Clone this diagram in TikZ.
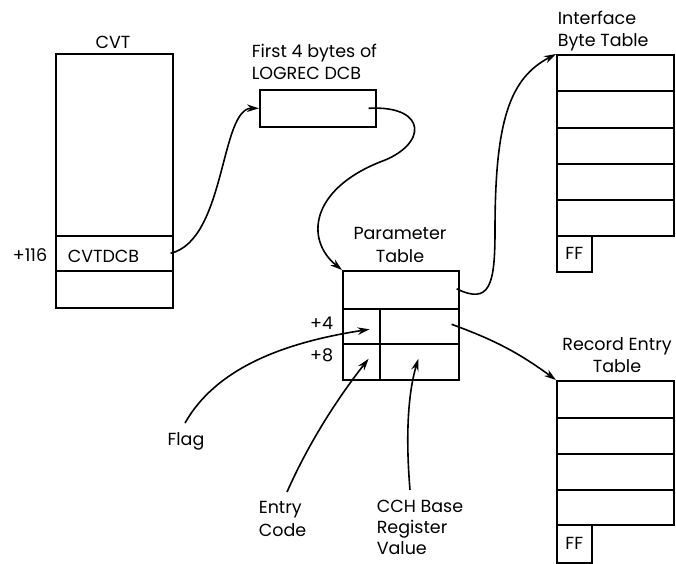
\documentclass[tikz,border=0pt]{standalone}
\usepackage{fontspec}
\setmainfont{Poppins}
\usetikzlibrary{arrows.meta,calc}
\begin{document}
\begin{tikzpicture}[x=1pt,y=-1pt, line width=1.6pt,
  cell/.style={draw, rectangle, inner sep=0pt, anchor=north west},
  lbl/.style={font=\fontsize{17.5}{22.5}\selectfont, inner sep=0pt},
  arr/.style={-{Stealth[length=12pt,width=7.5pt]}, line width=1.6pt}]
\useasboundingbox (0,0) rectangle (676,563);

% CVT
\node[cell, minimum width=117, minimum height=182] (cvttop) at (55,53) {};
\node[cell, minimum width=117, minimum height=35] (cvtdcb) at (55,235) {};
\node[cell, minimum width=117, minimum height=37] (cvtbot) at (55,270) {};
\node[lbl] (cvtlbl) at (113,42) {CVT};
\node[lbl] (off116) at (30,255) {+116};
\node[lbl, anchor=west] (cvtdcbtxt) at (67,256) {CVTDCB};

% LOGREC DCB
\node[cell, minimum width=116, minimum height=37] (logrec) at (259,89) {};
\node[lbl, anchor=west, align=left] (logreclbl) at (251,62) {First 4 bytes of\\LOGREC DCB};

% Parameter table
\node[cell, minimum width=116, minimum height=38] (p1) at (342,270) {};
\node[cell, minimum width=37, minimum height=35] (p2a) at (342,308) {};
\node[cell, minimum width=79, minimum height=35] (p2b) at (379,308) {};
\node[cell, minimum width=37, minimum height=36] (p3a) at (342,343) {};
\node[cell, minimum width=79, minimum height=36] (p3b) at (379,343) {};
\node[lbl, align=center] (plbl) at (400,245) {Parameter\\Table};
\node[lbl, anchor=east] (off4) at (334,323) {+4};
\node[lbl, anchor=east] (off8) at (334,355) {+8};

% Interface Byte Table
\node[cell, minimum width=117, minimum height=36] (i1) at (556,54) {};
\node[cell, minimum width=117, minimum height=37] (i2) at (556,90) {};
\node[cell, minimum width=117, minimum height=36] (i3) at (556,127) {};
\node[cell, minimum width=117, minimum height=36] (i4) at (556,163) {};
\node[cell, minimum width=117, minimum height=36] (i5) at (556,199) {};
\node[cell, minimum width=35, minimum height=36] (iff) at (556,235) {};
\node[lbl] (ifftxt) at (iff.center) {FF};
\node[lbl, anchor=west, align=left] (ilbl) at (557,31) {Interface\\Byte Table};

% Record Entry Table
\node[cell, minimum width=117, minimum height=37] (r1) at (556,380) {};
\node[cell, minimum width=117, minimum height=36] (r2) at (556,417) {};
\node[cell, minimum width=117, minimum height=36] (r3) at (556,453) {};
\node[cell, minimum width=117, minimum height=35] (r4) at (556,489) {};
\node[cell, minimum width=35, minimum height=38] (rff) at (556,524) {};
\node[lbl] (rfftxt) at (rff.center) {FF};
\node[lbl, align=center] (rlbl) at (617,355) {Record Entry\\Table};

% Labels at bottom
\node[lbl] (flag) at (186,441) {Flag};
\node[lbl, anchor=west, align=left] (entry) at (258,519) {Entry\\Code};
\node[lbl, anchor=west, align=left, font=\fontsize{17.5}{21}\selectfont] (cch) at (376,527) {CCH Base\\Register\\Value};

% connector end points
\coordinate (c1s) at ($(cvtdcb.east)+(-3,0)$);
\coordinate (c2s) at ($(logrec.east)+(-8,0)$);
\coordinate (c3s) at ($(p1.east)+(-3,-1)$);
\coordinate (c4s) at ($(p2b.east)+(-8,-2)$);
\coordinate (flagS) at (185,423);
\coordinate (entryS) at (287,492);
\coordinate (cchS) at (410,490);
\coordinate (flagT) at ($(p2a.east)+(-11,3)$);
\coordinate (entryT) at ($(p3a.east)+(-12,-3)$);
\coordinate (cchT) at ($(p3b.center)+(-1,-3)$);
\coordinate (mid2) at (380,162);
\coordinate (mid3) at (495,230);

% connectors
\draw[arr] (c1s) .. controls (226,240) and (220,108) .. (logrec.west);
\draw[arr] (c2s) .. controls (428,105) and (428,145) .. (mid2)
   .. controls (310,190) and (305,240) .. (p1.north west);
\draw[arr] (c3s) .. controls (490,305) and (495,285) .. (mid3)
   .. controls (495,120) and (510,78) .. (i1.north west);
\draw[arr] (c4s) to[bend left=8] (r1.north west);
\draw[arr] (flagS) .. controls (215,370) and (280,343) .. (flagT);
\draw[arr] (entryS) .. controls (310,440) and (340,395) .. (entryT);
\draw[arr] (cchS) .. controls (405,430) and (409,390) .. (cchT);
\end{tikzpicture}
\end{document}
